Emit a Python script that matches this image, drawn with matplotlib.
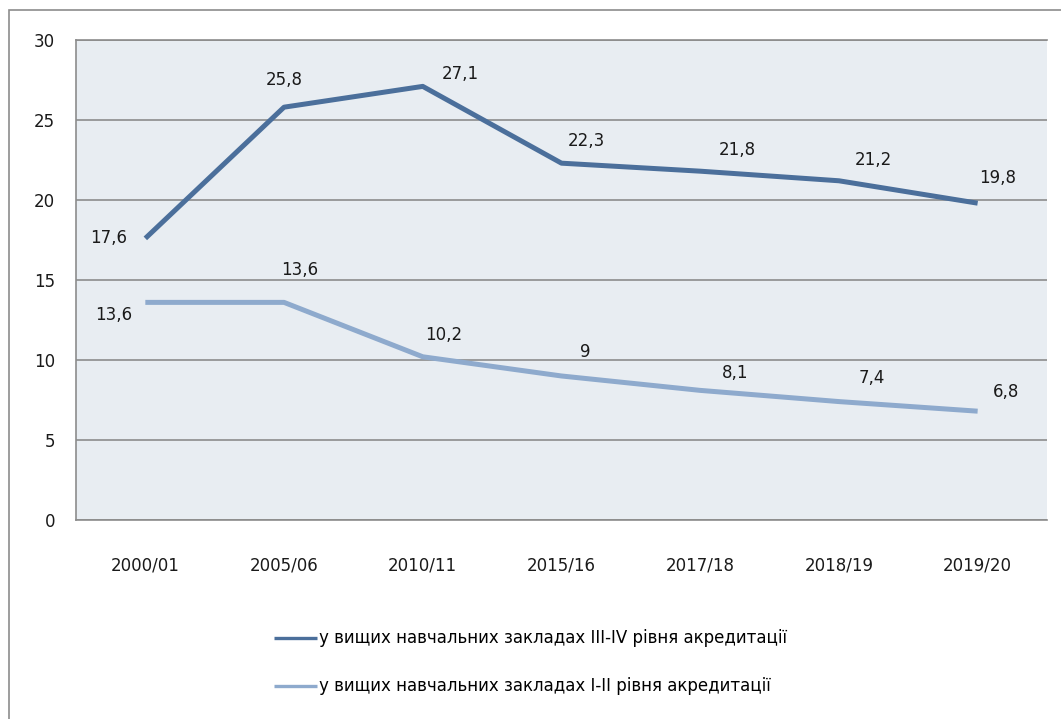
import matplotlib.pyplot as plt
from matplotlib.patches import Rectangle

years = ["2000/01", "2005/06", "2010/11", "2015/16", "2017/18", "2018/19", "2019/20"]
level_3_4 = [17.6, 25.8, 27.1, 22.3, 21.8, 21.2, 19.8]
level_1_2 = [13.6, 13.6, 10.2, 9.0, 8.1, 7.4, 6.8]
labels_3_4 = ["17,6", "25,8", "27,1", "22,3", "21,8", "21,2", "19,8"]
labels_1_2 = ["13,6", "13,6", "10,2", "9", "8,1", "7,4", "6,8"]
legend_names = ["у вищих навчальних закладах III-IV рівня акредитації",
                "у вищих навчальних закладах I-II рівня акредитації"]

# label offsets in pixels (dx, dy)
offs_3_4 = [(-37, 0), (0, 27), (38, 12), (25, 22), (37, 21), (34, 21), (20, 25)]
offs_1_2 = [(-32, -13), (16, 32), (21, 22), (24, 24), (35, 17), (33, 24), (28, 19)]

plt.rcParams["font.family"] = ["DejaVu Sans"]

fig = plt.figure(figsize=(10.61, 7.19), dpi=100)
fig.patches.append(Rectangle((9 / 1061, -0.1), 1.2, (719 - 10) / 719 + 0.1,
                             transform=fig.transFigure, fill=False,
                             edgecolor="#8c8c8c", lw=1.2))

ax = fig.add_axes([0.0716, 0.2768, 0.9152, 0.6676])
ax.set_facecolor("#e8edf2")
x = list(range(len(years)))
dark = "#4b6f9b"
light = "#8eaacd"
l1, = ax.plot(x, level_3_4, color=dark, lw=3.6, solid_capstyle="butt")
l2, = ax.plot(x, level_1_2, color=light, lw=3.6, solid_capstyle="butt")

for xi, v, t, o in zip(x, level_3_4, labels_3_4, offs_3_4):
    ax.annotate(t, (xi, v), xytext=o, textcoords="offset pixels",
                ha="center", va="center", fontsize=12, color="#1a1a1a")
for xi, v, t, o in zip(x, level_1_2, labels_1_2, offs_1_2):
    ax.annotate(t, (xi, v), xytext=o, textcoords="offset pixels",
                ha="center", va="center", fontsize=12, color="#1a1a1a")

ax.set_xlim(-0.5, 6.5)
ax.set_ylim(0, 30)
ax.set_yticks(range(0, 31, 5))
ax.set_xticks(x)
ax.set_xticklabels(years)
ax.tick_params(length=0, labelsize=12, colors="#1a1a1a")
ax.tick_params(axis="y", pad=15)
ax.tick_params(axis="x", pad=26)
ax.grid(axis="y", color="#8c8c8c", lw=1.2)
ax.set_axisbelow(True)
for s in ["left", "top", "bottom"]:
    ax.spines[s].set_color("#8c8c8c")
    ax.spines[s].set_linewidth(1.2)
ax.spines["right"].set_visible(False)

leg = fig.legend([l1, l2], legend_names, loc="center", bbox_to_anchor=(0.5, 0.0786),
                 frameon=False, fontsize=12, handlelength=2.6, handletextpad=0.15,
                 labelspacing=1.8)
for h in leg.get_lines():
    h.set_linewidth(2.4)

fig.savefig("out.png", dpi=100)
